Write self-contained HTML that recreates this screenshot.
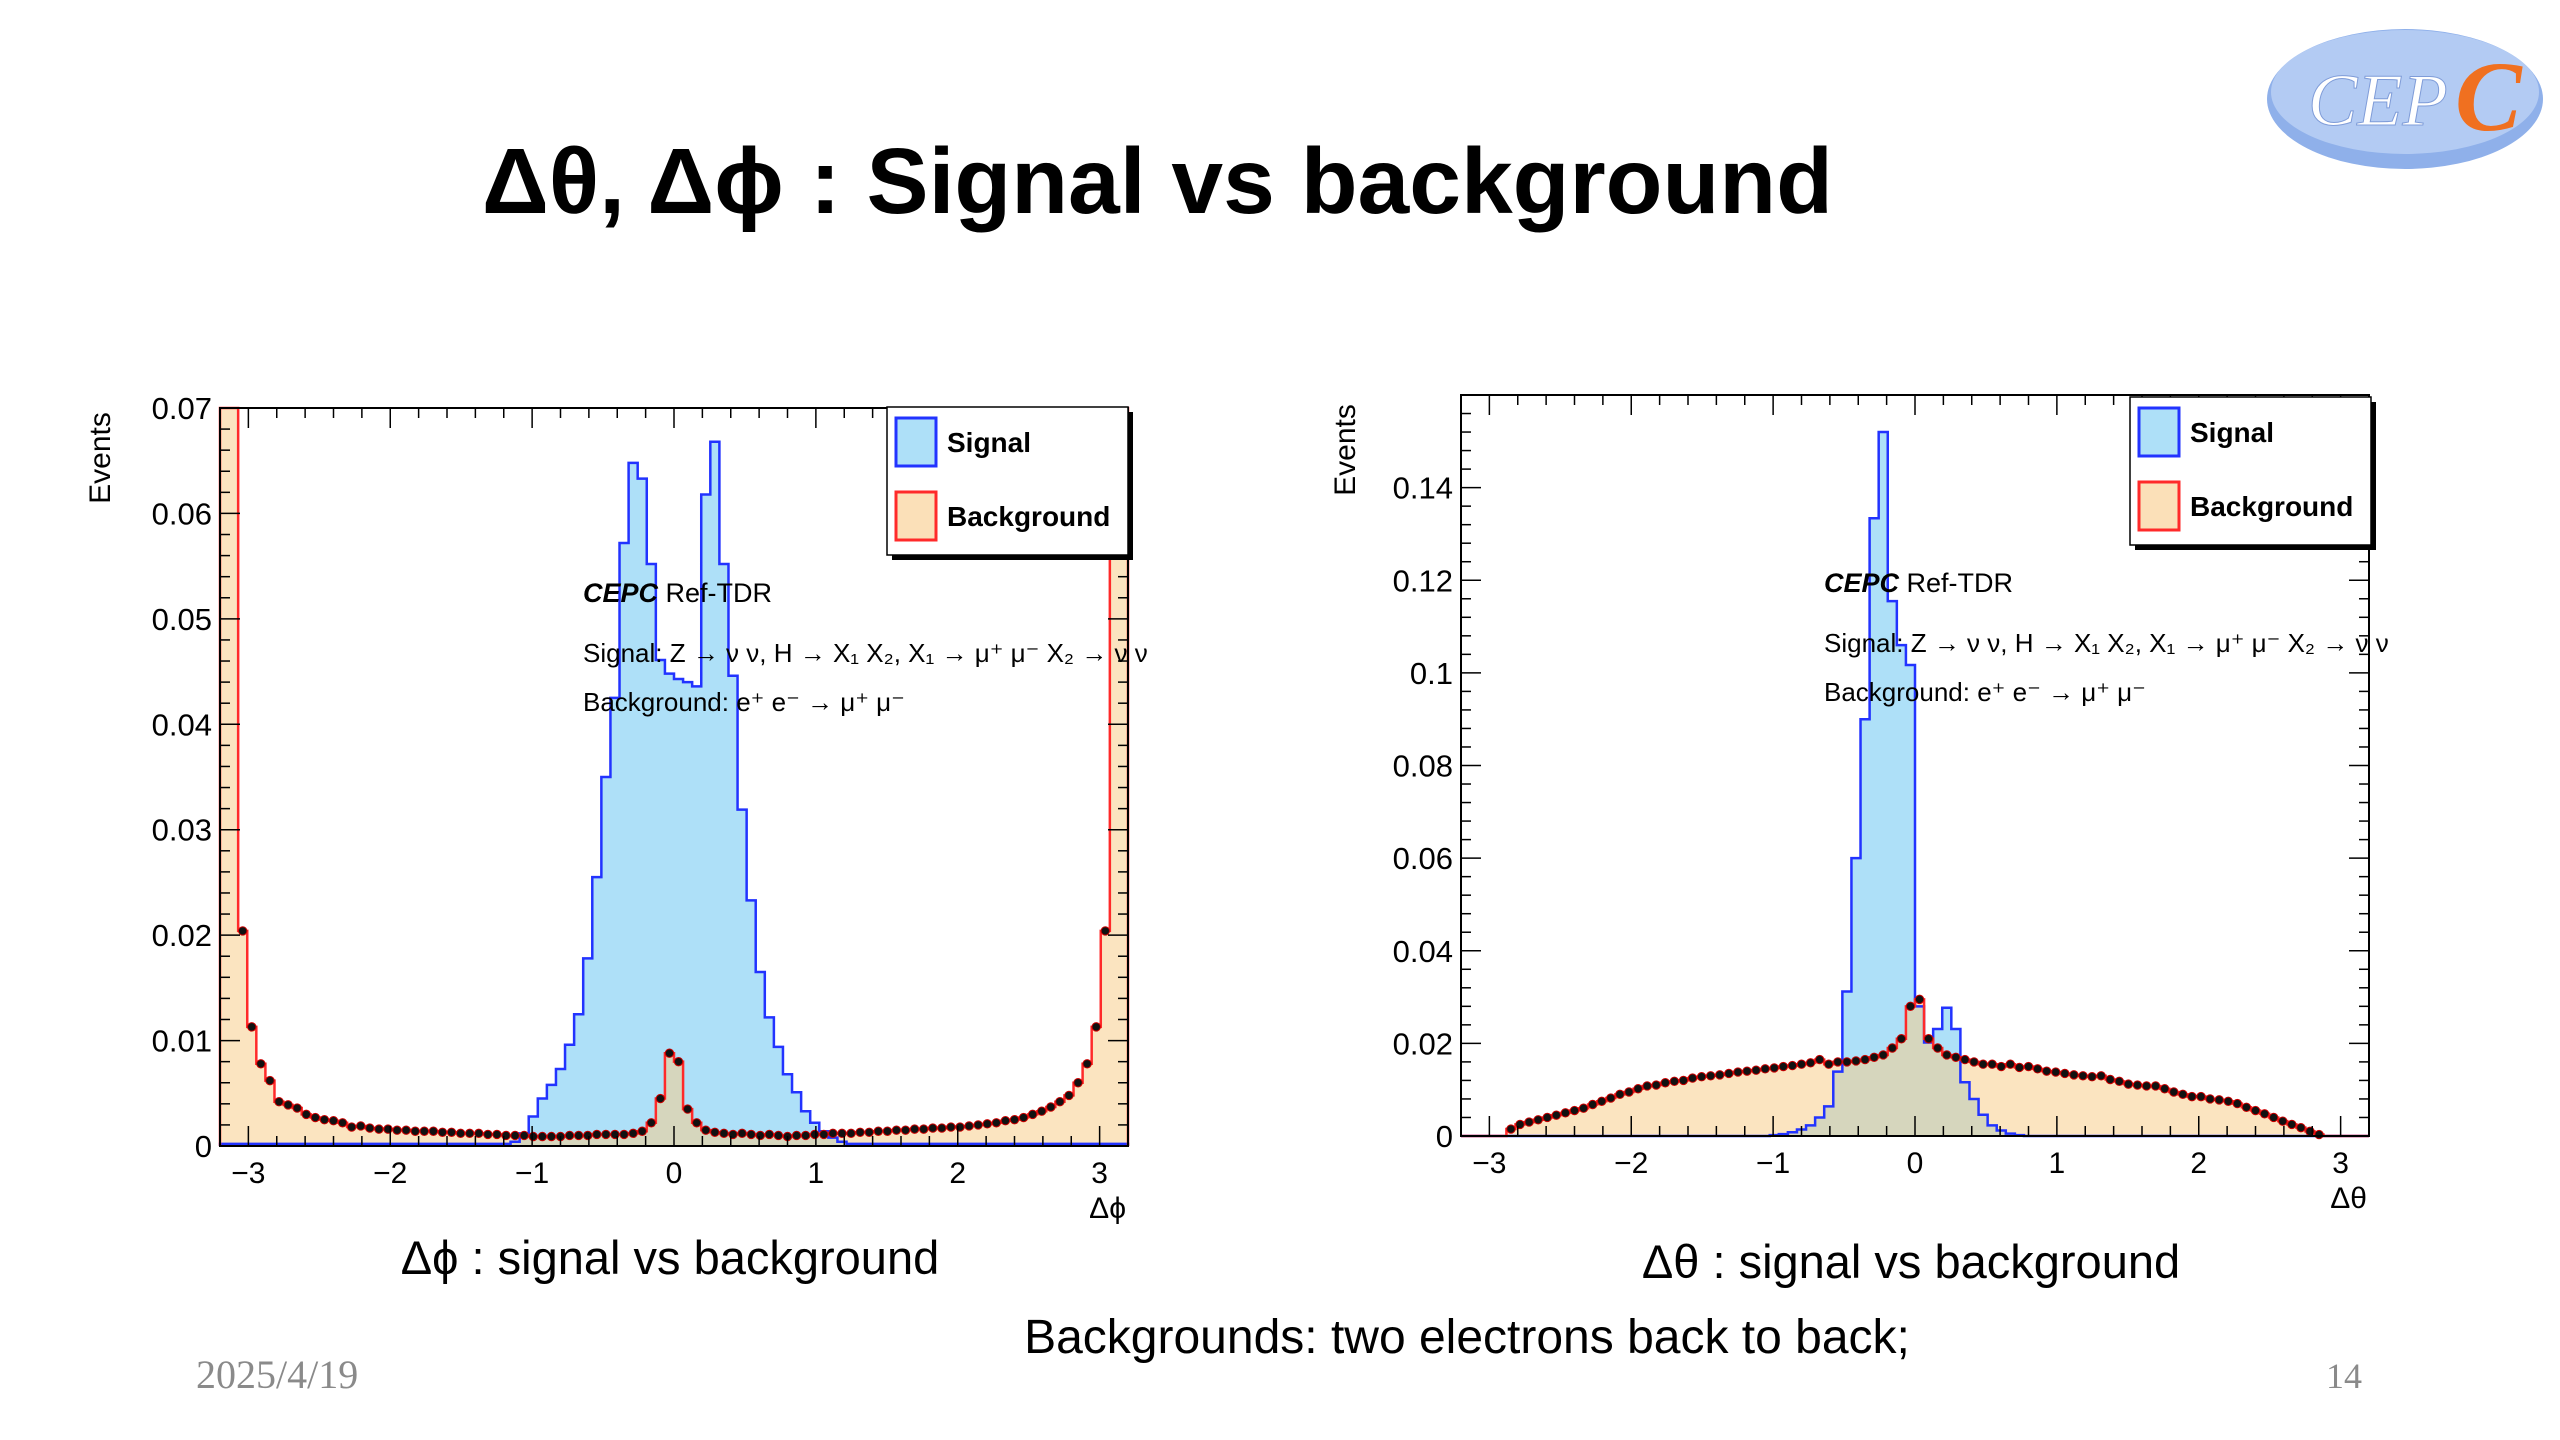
<!DOCTYPE html>
<html><head><meta charset="utf-8"><style>
html,body{margin:0;padding:0;background:#fff;}
svg{display:block;font-family:"Liberation Sans",sans-serif;}
</style></head><body>
<svg id="root" width="2560" height="1440" viewBox="0 0 2560 1440" xmlns="http://www.w3.org/2000/svg">
<g>
<ellipse cx="2405" cy="99" rx="138" ry="70" fill="#8fb0ea"/>
<ellipse cx="2405" cy="92" rx="134" ry="62" fill="#b3cbf3"/>
<text x="2308" y="125" font-family="Liberation Serif,serif" font-style="italic" font-size="74" fill="#fff" stroke="#7f9cd8" stroke-width="1">CEP</text>
<text x="2455" y="130" font-family="Liberation Serif,serif" font-style="italic" font-weight="bold" font-size="100" fill="#f07020">C</text>
</g>
<text x="482" y="213" font-size="93" font-weight="bold" fill="#000">Δθ, Δϕ : Signal vs background</text>
<text x="670" y="1274" font-size="47" text-anchor="middle">Δϕ : signal vs background</text>
<text x="1911" y="1278" font-size="47" text-anchor="middle">Δθ : signal vs background</text>
<text x="1467" y="1353" font-size="48" text-anchor="middle">Backgrounds: two electrons back to back;</text>
<text x="196" y="1388" font-size="40" font-family="Liberation Serif,serif" fill="#8a8a8a">2025/4/19</text>
<text x="2362" y="1388" font-size="36" font-family="Liberation Serif,serif" fill="#8a8a8a" text-anchor="end">14</text>
<g id="chartL"></g>
<g id="chartR"></g>
</svg>
<script>
const binEdgesMin = -3.2;
const binEdgesMax = 3.2;
const phiSignal = [0.0002,0.0002,0.0002,0.0002,0.0002,0.0002,0.0002,0.0002,0.0002,0.0002,
0.0002,0.0002,0.0002,0.0002,0.0002,0.0002,0.0002,0.0002,0.0002,0.0002,
0.0002,0.0002,0.0002,0.0002,0.0002,0.0002,0.0002,0.0002,0.0002,0.0002,
0.0002,0.0002,0.0004,0.0012,0.0028,0.0045,0.0058,0.0073,0.0096,0.0125,
0.0178,0.0255,0.035,0.0425,0.0572,0.0648,0.0633,0.0552,0.0461,0.0448,
0.0443,0.0440,0.0436,0.0618,0.0668,0.0552,0.0446,0.0319,0.0233,0.0165,
0.0122,0.0094,0.0068,0.0051,0.0033,0.0022,0.0014,0.0008,0.0004,0.0002,
0.0002,0.0002,0.0002,0.0002,0.0002,0.0002,0.0002,0.0002,0.0002,0.0002,
0.0002,0.0002,0.0002,0.0002,0.0002,0.0002,0.0002,0.0002,0.0002,0.0002,
0.0002,0.0002,0.0002,0.0002,0.0002,0.0002,0.0002,0.0002,0.0002,0.0002];
const phiBackground = [0.2,0.2,0.0204,0.0113,0.0078,0.0062,0.0042,0.0039,0.0036,0.0030,
0.0027,0.0025,0.0024,0.0022,0.0018,0.0019,0.0017,0.0016,0.0016,0.0015,
0.0015,0.0014,0.0014,0.0014,0.0013,0.0013,0.0012,0.0012,0.0012,0.0011,
0.0011,0.0010,0.0010,0.0010,0.0009,0.0009,0.0009,0.0009,0.0010,0.0010,
0.0010,0.0011,0.0011,0.0011,0.0011,0.0012,0.0014,0.0022,0.0045,0.0088,
0.0080,0.0035,0.0022,0.0015,0.0013,0.0012,0.0011,0.0012,0.0011,0.0010,
0.0011,0.0010,0.0009,0.0010,0.0010,0.0011,0.0011,0.0012,0.0012,0.0012,
0.0013,0.0013,0.0014,0.0014,0.0015,0.0015,0.0016,0.0016,0.0017,0.0017,
0.0018,0.0018,0.0019,0.0020,0.0021,0.0022,0.0024,0.0025,0.0027,0.0030,
0.0033,0.0037,0.0042,0.0048,0.0060,0.0078,0.0113,0.0204,0.2,0.2];
const thetaSignal = [0,0,0,0,0,0,0,0,0,0,
0,0,0,0,0,0,0,0,0,0,
0,0,0,0,0,0,0,0,0,0,
0,0,0,0,0.0002,0.0004,0.0008,0.0014,0.0023,0.004,
0.0064,0.0139,0.0312,0.060,0.090,0.1334,0.152,0.1155,0.106,0.1017,
0.028,0.0202,0.0231,0.0277,0.0231,0.0116,0.008,0.0046,0.0023,0.0012,
0.0005,0.0002,0,0,0,0,0,0,0,0,
0,0,0,0,0,0,0,0,0,0,
0,0,0,0,0,0,0,0,0,0,
0,0,0,0,0,0,0,0,0,0];
const thetaBackground = [0,0,0,0,0,0.0015,0.0025,0.003,0.0035,0.004,
0.0045,0.005,0.0055,0.006,0.0068,0.0075,0.0082,0.009,0.0095,0.0102,
0.0108,0.011,0.0115,0.0118,0.012,0.0125,0.0128,0.013,0.0132,0.0135,
0.0138,0.014,0.0142,0.0145,0.0147,0.015,0.0152,0.0155,0.0158,0.0165,
0.0155,0.016,0.016,0.0162,0.0165,0.017,0.0175,0.019,0.021,0.028,
0.0295,0.021,0.019,0.0175,0.017,0.0165,0.016,0.0155,0.0155,0.015,
0.0155,0.0148,0.015,0.0145,0.014,0.0138,0.0135,0.0132,0.013,0.0128,
0.013,0.0122,0.0118,0.0112,0.011,0.0108,0.0108,0.0102,0.0095,0.009,
0.0085,0.0085,0.008,0.0078,0.0075,0.007,0.0062,0.0055,0.0048,0.004,
0.0032,0.0025,0.0018,0.001,0.0003,0,0,0,0,0];
const xTickValues = [-3,-2,-1,0,1,2,3];
const phiYTicks = ["0","0.01","0.02","0.03","0.04","0.05","0.06","0.07"];
const thetaYTicks = ["0","0.02","0.04","0.06","0.08","0.1","0.12","0.14"];

const NS="http://www.w3.org/2000/svg";
function mk(parent, tag, attrs, text){
  const e=document.createElementNS(NS,tag);
  for(const k in attrs) e.setAttribute(k,attrs[k]);
  if(text!==undefined) e.textContent=text;
  parent.appendChild(e); return e;
}
function drawChart(g, cfg, sig, bkg, yTicks, xTitle){
  const {x0,y0,x1,y1,ymax,ystep,yminor}=cfg;
  const sx=v=>x0+(v-binEdgesMin)/(binEdgesMax-binEdgesMin)*(x1-x0);
  const sy=v=>y1-Math.min(v,ymax)/ymax*(y1-y0);
  const n=sig.length, w=(binEdgesMax-binEdgesMin)/n;
  function stepPath(arr, closed){
    let d="M"+sx(binEdgesMin)+","+sy(0);
    for(let i=0;i<n;i++){
      const a=binEdgesMin+i*w, b=a+w;
      d+=" L"+sx(a)+","+sy(arr[i])+" L"+sx(b)+","+sy(arr[i]);
    }
    d+=" L"+sx(binEdgesMax)+","+sy(0);
    if(closed) d+=" Z";
    return d;
  }
  const sf=mk(g,"path",{d:stepPath(sig,true),fill:"#aee0f8",stroke:"none"});
  
  
  const bf=mk(g,"path",{d:stepPath(bkg,true),fill:"rgba(247,205,140,0.55)",stroke:"none"});
  
  
  const sl=mk(g,"path",{d:stepPath(sig,false),fill:"none",stroke:"#2233ff",'stroke-width':2.5});
  
  
  const bl=mk(g,"path",{d:stepPath(bkg,false),fill:"none",stroke:"#ff2a2a",'stroke-width':2.5});
  
  
  for(let i=0;i<n;i++){
    if(bkg[i]<=0 || bkg[i]>ymax) continue;
    const c=mk(g,"circle",{cx:sx(binEdgesMin+(i+0.5)*w),cy:sy(bkg[i]),r:4.2,fill:"#111",stroke:"#c00",'stroke-width':1});
    
    
  }
  const fr=mk(g,"rect",{x:x0,y:y0,width:x1-x0,height:y1-y0,fill:"none",stroke:"#000",'stroke-width':2});
  
  
  for(let v=-3.2; v<=3.2001; v+=0.2){
    const vv=Math.round(v*10)/10;
    const major=Math.abs(vv-Math.round(vv))<1e-6;
    const L=major?20:10;
    mk(g,"line",{x1:sx(vv),x2:sx(vv),y1:y1,y2:y1-L,stroke:"#000",'stroke-width':1.5});
    mk(g,"line",{x1:sx(vv),x2:sx(vv),y1:y0,y2:y0+L,stroke:"#000",'stroke-width':1.5});
  }
  xTickValues.forEach(v=>{
    const t=mk(g,"text",{x:sx(v),y:y1+37,'font-size':30,'text-anchor':'middle'},(v<0?"−":"")+Math.abs(v));
    
    
  });
  for(let k=0;k*yminor<=ymax+1e-9;k++){
    const v=k*yminor;
    const major=Math.abs(v/ystep-Math.round(v/ystep))<1e-6;
    const L=major?20:10;
    mk(g,"line",{x1:x0,x2:x0+L,y1:sy(v),y2:sy(v),stroke:"#000",'stroke-width':1.5});
    mk(g,"line",{x1:x1,x2:x1-L,y1:sy(v),y2:sy(v),stroke:"#000",'stroke-width':1.5});
  }
  yTicks.forEach((s,i)=>{
    const t=mk(g,"text",{x:x0-8,y:sy(i*ystep)+11,'font-size':31,'text-anchor':'end'},s);
    
    
  });
  const yt=mk(g,"text",{x:0,y:0,'font-size':30,'text-anchor':'middle',transform:"translate("+(cfg.ytx)+","+(cfg.yty)+") rotate(-90)"},"Events");
  
  
  const xt=mk(g,"text",{x:x1-2,y:y1+72,'font-size':30,'text-anchor':'end'},xTitle);
  
  
  const a1=mk(g,"text",{x:cfg.ax,y:cfg.ay,'font-size':27});
  
  
  mk(a1,"tspan",{'font-weight':'bold','font-style':'italic'},"CEPC");
  mk(a1,"tspan",{},"  Ref-TDR");
  const a2=mk(g,"text",{x:cfg.ax,y:cfg.ay+60,'font-size':26},"Signal: Z → ν ν, H → X₁ X₂, X₁ → μ⁺ μ⁻ X₂ → ν ν");
  
  
  const a3=mk(g,"text",{x:cfg.ax,y:cfg.ay+109,'font-size':26},"Background:  e⁺ e⁻ → μ⁺ μ⁻");
  
  
  const lg=mk(g,"g",{});
  
  
  const lx=cfg.lx, ly=cfg.ly, lw=241, lh=148;
  mk(lg,"rect",{x:lx+5,y:ly+5,width:lw,height:lh,fill:"#000"});
  mk(lg,"rect",{x:lx,y:ly,width:lw,height:lh,fill:"#fff",stroke:"#000",'stroke-width':1.5});
  const e1=mk(lg,"rect",{x:lx+9,y:ly+11,width:40,height:48,fill:"#aee0f8",stroke:"#2233ff",'stroke-width':3});
  
  
  const e2=mk(lg,"rect",{x:lx+9,y:ly+85,width:40,height:48,fill:"#fbe0b8",stroke:"#ff2a2a",'stroke-width':3});
  
  
  const t1=mk(lg,"text",{x:lx+60,y:ly+45,'font-size':28,'font-weight':'bold'},"Signal");
  
  
  const t2=mk(lg,"text",{x:lx+60,y:ly+119,'font-size':28,'font-weight':'bold'},"Background");
  
  
}
drawChart(document.getElementById('chartL'),
  {x0:220,y0:408,x1:1128,y1:1146,ymax:0.07,ystep:0.01,yminor:0.002,ytx:110,yty:458,ax:583,ay:602,lx:887,ly:407},
  phiSignal, phiBackground, phiYTicks, "Δϕ");
drawChart(document.getElementById('chartR'),
  {x0:1461,y0:395,x1:2369,y1:1136,ymax:0.16,ystep:0.02,yminor:0.004,ytx:1355,yty:450,ax:1824,ay:592,lx:2130,ly:397},
  thetaSignal, thetaBackground, thetaYTicks, "Δθ");
</script>
</body></html>
